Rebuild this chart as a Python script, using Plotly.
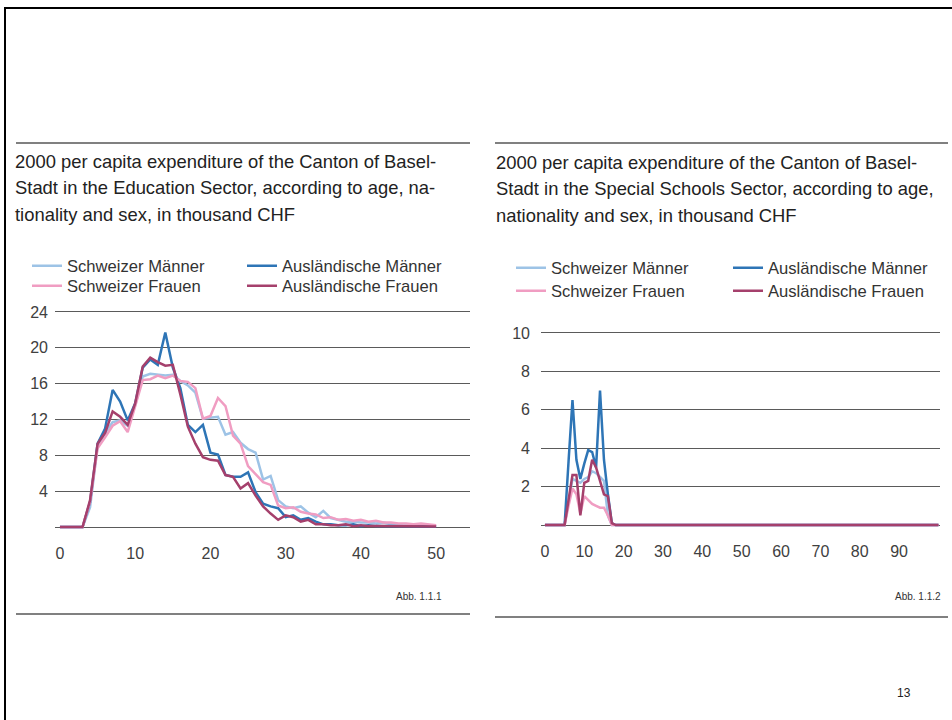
import plotly.graph_objects as go

# ---------------- data ----------------
ages_edu = list(range(0, 51))
edu_schweizer_maenner = [0, 0, 0, 0, 2.2, 9.0, 10.5, 11.7, 11.9, 11.3, 13.6, 16.8, 17.1, 17.0, 16.9, 17.0,
                         16.3, 15.8, 15.0, 12.1, 12.2, 12.3, 10.3, 10.6, 9.4, 8.7, 8.3, 5.3, 5.7, 3.0, 2.3,
                         2.1, 2.3, 1.6, 1.1, 1.8, 1.0, 0.8, 0.6, 0.6, 0.5, 0.5, 0.4, 0.5, 0.3, 0.3, 0.3,
                         0.2, 0.2, 0.2, 0.1]
edu_auslaendische_maenner = [0, 0, 0, 0, 2.8, 9.3, 11.0, 15.3, 14.0, 11.9, 13.8, 17.8, 18.7, 18.1, 21.7, 17.8,
                             15.5, 11.4, 10.6, 11.4, 8.3, 8.1, 5.8, 5.6, 5.6, 6.1, 3.9, 2.6, 2.3, 2.1, 1.1,
                             1.3, 0.8, 1.0, 0.6, 0.3, 0.3, 0.2, 0.2, 0.3, 0.1, 0.2, 0.1, 0.1, 0.1, 0.1, 0.1,
                             0.1, 0.1, 0.05, 0.05]
edu_schweizer_frauen = [0, 0, 0, 0, 2.8, 8.8, 10.0, 11.3, 11.8, 10.6, 13.5, 16.4, 16.5, 16.9, 16.6, 16.9,
                        16.3, 16.2, 15.5, 12.1, 12.4, 14.4, 13.5, 10.2, 9.3, 6.8, 5.9, 5.0, 4.7, 2.4, 2.1,
                        2.2, 1.7, 1.5, 1.4, 1.0, 1.1, 0.8, 0.9, 0.7, 0.8, 0.6, 0.7, 0.5, 0.5, 0.4, 0.4,
                        0.3, 0.4, 0.3, 0.2]
edu_auslaendische_frauen = [0, 0, 0, 0, 3.0, 9.3, 10.5, 12.9, 12.3, 11.4, 13.8, 17.9, 18.9, 18.4, 18.0, 18.1,
                            14.8, 11.2, 9.3, 7.8, 7.5, 7.4, 5.8, 5.6, 4.3, 4.9, 3.5, 2.3, 1.5, 0.8, 1.3,
                            1.1, 0.6, 0.8, 0.3, 0.3, 0.2, 0.2, 0.3, 0.1, 0.2, 0.1, 0.1, 0.1, 0.1, 0.05, 0.05,
                            0.05, 0.05, 0.05, 0.05]

ages_special = list(range(0, 101))
special_schweizer_maenner = [0, 0, 0, 0, 0, 0, 1.2, 2.4, 2.3, 2.2, 2.4, 2.5, 2.8, 2.7, 2.5, 2.3, 0.5, 0,
                             0, 0, 0, 0, 0, 0, 0, 0, 0, 0, 0, 0, 0, 0, 0, 0, 0, 0, 0, 0, 0, 0, 0, 0, 0, 0,
                             0, 0, 0, 0, 0, 0, 0, 0, 0, 0, 0, 0, 0, 0, 0, 0, 0, 0, 0, 0, 0, 0, 0, 0, 0, 0,
                             0, 0, 0, 0, 0, 0, 0, 0, 0, 0, 0, 0, 0, 0, 0, 0, 0, 0, 0, 0, 0, 0, 0, 0, 0, 0,
                             0, 0, 0, 0, 0]
special_auslaendische_maenner = [0, 0, 0, 0, 0, 0, 3.3, 6.5, 3.4, 2.4, 3.2, 3.9, 3.8, 3.0, 7.0, 3.4, 1.6, 0.1,
                                 0, 0, 0, 0, 0, 0, 0, 0, 0, 0, 0, 0, 0, 0, 0, 0, 0, 0, 0, 0, 0, 0, 0, 0, 0, 0,
                                 0, 0, 0, 0, 0, 0, 0, 0, 0, 0, 0, 0, 0, 0, 0, 0, 0, 0, 0, 0, 0, 0, 0, 0, 0, 0,
                                 0, 0, 0, 0, 0, 0, 0, 0, 0, 0, 0, 0, 0, 0, 0, 0, 0, 0, 0, 0, 0, 0, 0, 0, 0, 0,
                                 0, 0, 0, 0, 0]
special_schweizer_frauen = [0, 0, 0, 0, 0, 0, 1.0, 1.9, 1.6, 0.6, 1.5, 1.3, 1.1, 1.0, 0.9, 0.9, 0.5, 0,
                            0, 0, 0, 0, 0, 0, 0, 0, 0, 0, 0, 0, 0, 0, 0, 0, 0, 0, 0, 0, 0, 0, 0, 0, 0, 0,
                            0, 0, 0, 0, 0, 0, 0, 0, 0, 0, 0, 0, 0, 0, 0, 0, 0, 0, 0, 0, 0, 0, 0, 0, 0, 0,
                            0, 0, 0, 0, 0, 0, 0, 0, 0, 0, 0, 0, 0, 0, 0, 0, 0, 0, 0, 0, 0, 0, 0, 0, 0, 0,
                            0, 0, 0, 0, 0]
special_auslaendische_frauen = [0, 0, 0, 0, 0, 0, 1.3, 2.6, 2.6, 0.5, 2.2, 2.3, 3.4, 3.0, 2.3, 1.6, 1.5, 0.1,
                                0, 0, 0, 0, 0, 0, 0, 0, 0, 0, 0, 0, 0, 0, 0, 0, 0, 0, 0, 0, 0, 0, 0, 0, 0, 0,
                                0, 0, 0, 0, 0, 0, 0, 0, 0, 0, 0, 0, 0, 0, 0, 0, 0, 0, 0, 0, 0, 0, 0, 0, 0, 0,
                                0, 0, 0, 0, 0, 0, 0, 0, 0, 0, 0, 0, 0, 0, 0, 0, 0, 0, 0, 0, 0, 0, 0, 0, 0, 0,
                                0, 0, 0, 0, 0]

series_names = ["Schweizer Männer", "Ausländische Männer", "Schweizer Frauen", "Ausländische Frauen"]
series_colors = ["#9DC3E6", "#2E75B6", "#F09DC2", "#A5406C"]

edu_xticks = [0, 10, 20, 30, 40, 50]
edu_yticks = [4, 8, 12, 16, 20, 24]
special_xticks = [0, 10, 20, 30, 40, 50, 60, 70, 80, 90]
special_yticks = [2, 4, 6, 8, 10]

title_left = ["2000 per capita expenditure of the Canton of Basel-",
              "Stadt in the Education Sector, according to age, na-",
              "tionality and sex, in thousand CHF"]
title_right = ["2000 per capita expenditure of the Canton of Basel-",
               "Stadt in the Special Schools Sector, according to age,",
               "nationality and sex, in thousand CHF"]

# ---------------- figure ----------------
W, H = 952, 720
FONT = "Liberation Sans, Arial, sans-serif"


def px_x(p):
    return p / W


def px_y(p):
    return 1 - p / H


fig = go.Figure()

edu_series = [edu_schweizer_maenner, edu_auslaendische_maenner, edu_schweizer_frauen, edu_auslaendische_frauen]
spec_series = [special_schweizer_maenner, special_auslaendische_maenner, special_schweizer_frauen,
               special_auslaendische_frauen]

# legend positions (sample start x, row y) in pixels
left_leg_pos = [(27, 266), (242, 266), (27, 286), (242, 286)]
right_leg_pos = [(511, 268), (728, 268), (511, 291), (728, 291)]

LEGFONT = dict(family=FONT, size=16.6, color="#333333")
legends = {}
for i in range(4):
    lname = "legend" if i == 0 else f"legend{i + 1}"
    fig.add_trace(go.Scatter(x=ages_edu, y=edu_series[i], mode="lines", name=series_names[i],
                             line=dict(color=series_colors[i], width=2.5), xaxis="x", yaxis="y",
                             legend=lname, showlegend=True))
    lx, ly = left_leg_pos[i]
    legends[lname] = dict(x=px_x(lx), y=px_y(ly), xanchor="left", yanchor="middle",
                          bgcolor="rgba(0,0,0,0)", borderwidth=0, font=LEGFONT)
for i in range(4):
    lname = f"legend{i + 5}"
    fig.add_trace(go.Scatter(x=ages_special, y=spec_series[i], mode="lines", name=series_names[i],
                             line=dict(color=series_colors[i], width=2.5), xaxis="x2", yaxis="y2",
                             legend=lname, showlegend=True))
    lx, ly = right_leg_pos[i]
    legends[lname] = dict(x=px_x(lx), y=px_y(ly), xanchor="left", yanchor="middle",
                          bgcolor="rgba(0,0,0,0)", borderwidth=0, font=LEGFONT)

GRID = "#5a5a5a"
tickfont = dict(family=FONT, size=16, color="#404040")

fig.update_layout(
    width=W, height=H, autosize=False,
    margin=dict(l=0, r=0, t=0, b=0, pad=0, autoexpand=False),
    paper_bgcolor="white", plot_bgcolor="white",
    font=dict(family=FONT),
    xaxis=dict(domain=[px_x(55), px_x(470)], range=[-0.66, 54.5], tickvals=edu_xticks,
               showgrid=False, zeroline=False, showline=False, ticks="", tickfont=tickfont,
               ticklabelstandoff=12, anchor="y", fixedrange=True, automargin=False),
    yaxis=dict(domain=[px_y(529.7), px_y(309.3)], range=[-0.3, 24.3], tickvals=edu_yticks,
               showgrid=True, gridcolor=GRID, gridwidth=1, zeroline=True, zerolinecolor=GRID,
               zerolinewidth=1, showline=False, ticks="", tickfont=tickfont, ticklabelstandoff=6,
               anchor="x", fixedrange=True, automargin=False),
    xaxis2=dict(domain=[px_x(541), px_x(940)], range=[-1.0, 100.4], tickvals=special_xticks,
                showgrid=False, zeroline=False, showline=False, ticks="", tickfont=tickfont,
                ticklabelstandoff=12, anchor="y2", fixedrange=True, automargin=False),
    yaxis2=dict(domain=[px_y(527.9), px_y(330.1)], range=[-0.15, 10.15], tickvals=special_yticks,
                showgrid=True, gridcolor=GRID, gridwidth=1, zeroline=True, zerolinecolor=GRID,
                zerolinewidth=1, showline=False, ticks="", tickfont=tickfont, ticklabelstandoff=10,
                anchor="x2", fixedrange=True, automargin=False),
    **legends,
)

shapes = []
# page frame (top and left)
shapes.append(dict(type="line", xref="paper", yref="paper", x0=px_x(4), x1=px_x(952), y0=px_y(8), y1=px_y(8),
                   line=dict(color="black", width=2)))
shapes.append(dict(type="line", xref="paper", yref="paper", x0=px_x(5), x1=px_x(5), y0=px_y(7), y1=px_y(720),
                   line=dict(color="black", width=2)))
# separators
for (x0, x1, y) in [(16, 470, 143), (495, 948, 143), (16, 470, 614), (495, 948, 617)]:
    shapes.append(dict(type="line", xref="paper", yref="paper", x0=px_x(x0), x1=px_x(x1), y0=px_y(y),
                       y1=px_y(y), line=dict(color="#808080", width=2)))
fig.update_layout(shapes=shapes)

TITLEFONT = dict(family=FONT, size=18.4, color="#222222")
annotations = []
for k, line in enumerate(title_left):
    annotations.append(dict(text=line, x=px_x(13), y=px_y(162 + 26 * k), xref="paper", yref="paper",
                            xanchor="left", yanchor="middle", showarrow=False, font=TITLEFONT))
for k, line in enumerate(title_right):
    annotations.append(dict(text=line, x=px_x(494), y=px_y(163 + 26 * k), xref="paper", yref="paper",
                            xanchor="left", yanchor="middle", showarrow=False, font=TITLEFONT))
annotations.append(dict(text="Abb. 1.1.1", x=px_x(444), y=px_y(596), xref="paper", yref="paper",
                        xanchor="right", yanchor="middle", showarrow=False,
                        font=dict(family=FONT, size=10, color="#333333")))
annotations.append(dict(text="Abb. 1.1.2", x=px_x(943), y=px_y(596), xref="paper", yref="paper",
                        xanchor="right", yanchor="middle", showarrow=False,
                        font=dict(family=FONT, size=10, color="#333333")))
annotations.append(dict(text="13", x=px_x(904), y=px_y(693), xref="paper", yref="paper",
                        xanchor="center", yanchor="middle", showarrow=False,
                        font=dict(family=FONT, size=12, color="#222222")))
fig.update_layout(annotations=annotations)

post = ("document.body.style.margin='0';document.body.style.padding='0';"
        "document.documentElement.style.overflow='hidden';"
        "var gd=document.getElementById('{plot_id}');"
        "gd.style.position='absolute';gd.style.top='0px';gd.style.left='0px';")
fig.write_html("out.html", post_script=post, config={"displayModeBar": False, "staticPlot": True})
